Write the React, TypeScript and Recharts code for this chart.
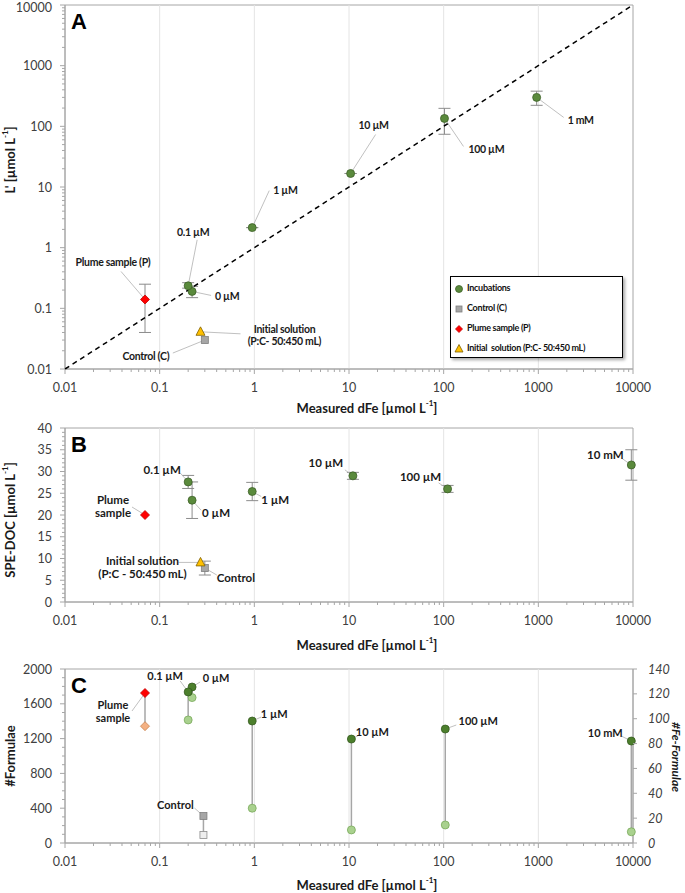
import React from "react";
import {
  ScatterChart,
  Scatter,
  XAxis,
  YAxis,
  ErrorBar,
  ReferenceLine,
  ReferenceArea,
  Legend,
} from "recharts";

// ---------- panel A: L' vs measured dFe ----------
const incNamesA = ["0 µM", "0.1 µM", "1 µM", "10 µM", "100 µM", "1 mM"];
const incFeA = [0.22, 0.2, 0.95, 10.4, 102, 960];
const incLA = [0.19, 0.235, 2.14, 16.7, 135, 300];
const incLErrA = [[0.04, 0.04], [0.02, 0.03], [0, 0], [0, 0], [61, 63], [78, 80]];
const plumeFeA = [0.07];
const plumeLA = [0.14];
const plumeLErrA = [[0.1, 0.11]];
const controlFeA = [0.3];
const controlLA = [0.03];
const initialFeA = [0.27];
const initialLA = [0.041];
const oneToOne = [0.01, 10000];

// ---------- panel B: SPE-DOC ----------
const incNamesB = ["0 µM", "0.1 µM", "1 µM", "10 µM", "100 µM", "10 mM"];
const incFeB = [0.22, 0.2, 0.95, 11, 110, 9600];
const incDocB = [23.4, 27.6, 25.4, 29, 26, 31.5];
const incDocErrB = [4.2, 1.5, 2.1, 0.8, 0.8, 3.5];
const plumeFeB = [0.07];
const plumeDocB = [20];
const controlFeB = [0.3];
const controlDocB = [7.8];
const controlDocErrB = [1.6];
const initialFeB = [0.27];
const initialDocB = [9.1];

// ---------- panel C: #Formulae / #Fe-Formulae ----------
const incNamesC = ["0 µM", "0.1 µM", "1 µM", "10 µM", "100 µM", "10 mM"];
const incFeC = [0.22, 0.2, 0.95, 10.6, 104, 9600];
const incFormulaeC = [1793, 1736, 1402, 1195, 1310, 1172];
const incFeFormulaeC = [117, 99, 28, 10.5, 14.5, 9];
const plumeFeC = [0.07];
const plumeFormulaeC = [1724];
const plumeFeFormulaeC = [94];
const controlFeC = [0.29];
const controlFormulaeC = [310];
const controlFeFormulaeC = [6.5];

// ---------- ticks ----------
const logMajors = [0.01, 0.1, 1, 10, 100, 1000, 10000];
const docMajors = [0, 5, 10, 15, 20, 25, 30, 35, 40];
const formulaeMajors = [0, 400, 800, 1200, 1600, 2000];
const feFormulaeMajors = [0, 20, 40, 60, 80, 100, 120, 140];

const logAll = logMajors.flatMap((d, i) =>
  i === logMajors.length - 1 ? [d] : [1, 2, 3, 4, 5, 6, 7, 8, 9].map((m) => (m === 1 ? d : Number((d * m).toPrecision(6))))
);
const linAll = (max: number, step: number) => Array.from({ length: max / step + 1 }, (_, i) => i * step);

const FONT = "Lato, 'Open Sans', sans-serif";
const AXIS = "#a6a6a6";
const GRID = "#e4e4e4";
const LEADER = "#b0b0b0";
const TS = 5;
const TM = 10;

const INC = { fill: "#5a8a3c", stroke: "#3d6128" };
const INC_DARK = { fill: "#4c7f2c", stroke: "#355a1f" };
const INC_LIGHT = { fill: "#a9d18e", stroke: "#7aa95c" };
const PLUME = { fill: "#ff0000", stroke: "#c00000" };
const PLUME_LIGHT = { fill: "#f4b183", stroke: "#c9834f" };
const CONTROL = { fill: "#a6a6a6", stroke: "#7f7f7f" };
const CONTROL_LIGHT = { fill: "#eeeeee", stroke: "#8c8c8c" };
const INITIAL = { fill: "#ffc000", stroke: "#7f6000" };

type Kind = "circle" | "square" | "diamond" | "triangle";
type Note = { lines: string[]; dx: number; dy: number; anchor?: "start" | "middle" | "end"; lx: number; ly: number };

const pts = (names: string[], xs: number[], ys: number[], errs?: any[]) =>
  xs.map((x, i) => ({ name: names[i], x, y: ys[i], err: errs ? errs[i] : 0 }));

function marker(kind: Kind, cx: number, cy: number, c: { fill: string; stroke: string }, s = 4) {
  const common = { fill: c.fill, stroke: c.stroke, strokeWidth: 0.8 };
  if (kind === "circle") return <circle cx={cx} cy={cy} r={s} {...common} />;
  if (kind === "square") return <rect x={cx - s + 0.5} y={cy - s + 0.5} width={2 * s - 1} height={2 * s - 1} {...common} />;
  if (kind === "diamond")
    return <polygon points={`${cx},${cy - s - 0.5} ${cx + s + 0.5},${cy} ${cx},${cy + s + 0.5} ${cx - s - 0.5},${cy}`} {...common} />;
  return <polygon points={`${cx},${cy - s - 1} ${cx + s + 0.5},${cy + s - 0.5} ${cx - s - 0.5},${cy + s - 0.5}`} {...common} />;
}

const makeShape =
  (kind: Kind, c: { fill: string; stroke: string }, notes: Record<string, Note>, fontSize: number, ls = 0) =>
  (p: any) => {
    const { cx, cy, payload } = p;
    const note = notes[payload?.name];
    return (
      <g>
        {note && <line x1={cx} y1={cy} x2={cx + note.lx} y2={cy + note.ly} stroke={LEADER} strokeWidth={0.8} />}
        {marker(kind, cx, cy, c)}
        {note &&
          note.lines.map((t, i) => (
            <text
              key={i}
              x={cx + note.dx}
              y={cy + note.dy + i * (fontSize + 2)}
              textAnchor={note.anchor || "middle"}
              dominantBaseline="central"
              style={{ fontFamily: FONT, fontSize, fontWeight: 700, letterSpacing: ls, fill: "#1a1a1a" }}
            >
              {t}
            </text>
          ))}
      </g>
    );
  };

const nothing = () => <g />;

const makeTick = (majors: number[], orient: "bottom" | "left" | "right", italic = false) => {
  const set = new Set(majors);
  return (p: any) => {
    const v = p.payload.value;
    const major = set.has(v);
    const len = major ? 5 : 3;
    const style: React.CSSProperties = {
      fontFamily: FONT,
      fontSize: 12.5,
      fill: "#404040",
      fontStyle: italic ? "italic" : "normal",
    };
    if (orient === "bottom") {
      const ay = p.y - TS - TM;
      return (
        <g>
          <line x1={p.x} x2={p.x} y1={ay} y2={ay + len} stroke={AXIS} />
          {major && (
            <text x={p.x} y={ay + 18} textAnchor="middle" dominantBaseline="central" style={style}>
              {v}
            </text>
          )}
        </g>
      );
    }
    if (orient === "left") {
      const ax = p.x + TS + TM;
      return (
        <g>
          <line x1={ax} x2={ax - len} y1={p.y} y2={p.y} stroke={AXIS} />
          {major && (
            <text x={ax - 13} y={Math.max(p.y, 7.5)} textAnchor="end" dominantBaseline="central" style={style}>
              {v}
            </text>
          )}
        </g>
      );
    }
    const ax = p.x - TS - TM;
    return (
      <g>
        <line x1={ax} x2={ax + 4} y1={p.y} y2={p.y} stroke={AXIS} />
        <text x={ax + 15} y={p.y} textAnchor="start" dominantBaseline="central" style={style}>
          {v}
        </text>
      </g>
    );
  };
};

const titleStyle: React.CSSProperties = { fontFamily: FONT, fontSize: 13, fontWeight: 700, fill: "#1a1a1a" };
const sup = (t: string) => (
  <tspan baselineShift="super" fontSize={8}>
    {t}
  </tspan>
);

const xTitle = (dy: number) => (p: any) => {
  const vb = p.viewBox;
  return (
    <text x={vb.x + vb.width / 2 + 18} y={vb.y + dy} textAnchor="middle" dominantBaseline="central" style={titleStyle}>
      Measured dFe [µmol L{sup("-1")}]
    </text>
  );
};

const yTitle = (content: React.ReactNode, dy: number) => (p: any) => {
  const vb = p.viewBox;
  const x = 10;
  const y = vb.y + vb.height / 2 + dy;
  return (
    <text x={x} y={y} transform={`rotate(-90, ${x}, ${y})`} textAnchor="middle" dominantBaseline="central" style={titleStyle}>
      {content}
    </text>
  );
};

const letter = (l: string) => (p: any) => {
  const vb = p.viewBox;
  return (
    <text x={vb.x + 6} y={vb.y + 24} style={{ fontFamily: "'Liberation Sans', Arial, sans-serif", fontSize: 22, fontWeight: 700, fill: "#000" }}>
      {l}
    </text>
  );
};

const notesA: Record<string, Note> = {
  "0 µM": { lines: ["0 µM"], dx: 23, dy: 5, anchor: "start", lx: 19, ly: 4 },
  "0.1 µM": { lines: ["0.1 µM"], dx: 5, dy: -54, lx: 9, ly: -46 },
  "1 µM": { lines: ["1 µM"], dx: 21, dy: -38, anchor: "start", lx: 17, ly: -37 },
  "10 µM": { lines: ["10 µM"], dx: 23, dy: -48, lx: 25, ly: -39 },
  "100 µM": { lines: ["100 µM"], dx: 24, dy: 31, anchor: "start", lx: 19, ly: 28 },
  "1 mM": { lines: ["1 mM"], dx: 31, dy: 23, anchor: "start", lx: 27, ly: 20 },
  plume: { lines: ["Plume sample (P)"], dx: -32, dy: -37, lx: -24, ly: -28 },
  control: { lines: ["Control (C)"], dx: -59, dy: 16, lx: -32, ly: 13 },
  initial: { lines: ["Initial solution", "(P:C- 50:450 mL)"], dx: 84, dy: -3, lx: 40, ly: 2 },
};

const notesB: Record<string, Note> = {
  "0 µM": { lines: ["0 µM"], dx: 24, dy: 12, lx: 9, ly: 10 },
  "0.1 µM": { lines: ["0.1 µM"], dx: -26, dy: -12, lx: -8, ly: -9 },
  "1 µM": { lines: ["1 µM"], dx: 23, dy: 8, lx: 9, ly: 5 },
  "10 µM": { lines: ["10 µM"], dx: -27, dy: -13, lx: -8, ly: -6 },
  "100 µM": { lines: ["100 µM"], dx: -27, dy: -12, lx: -9, ly: -6 },
  "10 mM": { lines: ["10 mM"], dx: -26, dy: -10, lx: -10, ly: -7 },
  plume: { lines: ["Plume", "sample"], dx: -32, dy: -16, lx: -13, ly: -8 },
  control: { lines: ["Control"], dx: 31, dy: 9, lx: 12, ly: 7 },
  initial: { lines: ["Initial solution", "(P:C - 50:450 mL)"], dx: -58, dy: -2, lx: -22, ly: 0 },
};

const notesC: Record<string, Note> = {
  "0 µM": { lines: ["0 µM"], dx: 24, dy: -10, lx: 8, ly: -5 },
  "0.1 µM": { lines: ["0.1 µM"], dx: -23, dy: -16, lx: -8, ly: -11 },
  "1 µM": { lines: ["1 µM"], dx: 22, dy: -8, lx: 9, ly: -4 },
  "10 µM": { lines: ["10 µM"], dx: 21, dy: -8, lx: 8, ly: -4 },
  "100 µM": { lines: ["100 µM"], dx: 33, dy: -9, lx: 11, ly: -4 },
  "10 mM": { lines: ["10 mM"], dx: -26, dy: -9, lx: -10, ly: -5 },
  plume: { lines: ["Plume", "sample"], dx: -32, dy: 11, lx: -13, ly: 18 },
  control: { lines: ["Control"], dx: -28, dy: -12, lx: -9, ly: -8 },
};

const legendItems: { kind: Kind; c: { fill: string; stroke: string }; label: string }[] = [
  { kind: "circle", c: INC, label: "Incubations" },
  { kind: "square", c: CONTROL, label: "Control (C)" },
  { kind: "diamond", c: PLUME, label: "Plume sample (P)" },
  { kind: "triangle", c: INITIAL, label: "Initial  solution (P:C- 50:450 mL)" },
];

const LegendBox = () => (
  <div
    style={{
      width: 173,
      height: 82,
      boxSizing: "border-box",
      border: "1px solid #000",
      background: "#fff",
      boxShadow: "2px 2px 3px rgba(0,0,0,0.35)",
      paddingTop: 0,
    }}
  >
    {legendItems.map((it) => (
      <div key={it.label} style={{ height: 20.2, display: "flex", alignItems: "center" }}>
        <svg width={16} height={12} style={{ marginTop: 3 }}>
          {marker(it.kind, 8, 6, it.c, it.kind === "diamond" ? 3 : 3.5)}
        </svg>
        <span style={{ fontFamily: FONT, fontSize: 9, fontWeight: 700, letterSpacing: -0.3, color: "#111", whiteSpace: "pre" }}>
          {it.label}
        </span>
      </div>
    ))}
  </div>
);

const xAxisProps = {
  dataKey: "x",
  type: "number" as const,
  scale: "log" as const,
  domain: [0.01, 10000],
  ticks: logAll,
  interval: 0,
  tickSize: TS,
  tickMargin: TM,
  tickLine: false,
  axisLine: { stroke: AXIS },
};

const PanelA = () => (
  <ScatterChart width={685} height={420} margin={{ top: 5, right: 52, bottom: 0, left: 20 }}>
    <XAxis {...xAxisProps} height={51} tick={makeTick(logMajors, "bottom")} label={xTitle(39)} />
    <YAxis
      dataKey="y"
      type="number"
      scale="log"
      domain={[0.01, 10000]}
      ticks={logAll}
      interval={0}
      width={45}
      tickSize={TS}
      tickMargin={TM}
      tickLine={false}
      axisLine={{ stroke: AXIS }}
      tick={makeTick(logMajors, "left")}
      label={yTitle(<>L&apos; [µmol L{sup("-1")}]</>, -27)}
    />
    {logMajors.slice(1, -1).map((v) => (
      <ReferenceLine key={v} x={v} stroke={GRID} />
    ))}
    <ReferenceArea x1={0.01} x2={10000} y1={0.01} y2={10000} fill="none" stroke={AXIS} label={letter("A")} />
    <Scatter
      data={oneToOne.map((v) => ({ x: v, y: v }))}
      line={{ stroke: "#000", strokeWidth: 1.5, strokeDasharray: "5 4" }}
      shape={nothing}
      legendType="none"
      isAnimationActive={false}
    />
    <Scatter data={pts(["plume"], plumeFeA, plumeLA, plumeLErrA)} shape={makeShape("diamond", PLUME, notesA, 10.5, -0.3)} isAnimationActive={false}>
      <ErrorBar dataKey="err" direction="y" width={6} stroke="#8c8c8c" strokeWidth={1} />
    </Scatter>
    <Scatter data={pts(["initial"], initialFeA, initialLA)} shape={makeShape("triangle", INITIAL, notesA, 10.5, -0.3)} isAnimationActive={false} />
    <Scatter data={pts(["control"], controlFeA, controlLA)} shape={makeShape("square", CONTROL, notesA, 10.5, -0.3)} isAnimationActive={false} />
    <Scatter data={pts(incNamesA, incFeA, incLA, incLErrA)} shape={makeShape("circle", INC, notesA, 10.5, -0.3)} isAnimationActive={false}>
      <ErrorBar dataKey="err" direction="y" width={6} stroke="#8c8c8c" strokeWidth={1} />
    </Scatter>
    <Legend
      layout="vertical"
      align="center"
      verticalAlign="middle"
      wrapperStyle={{ left: 450, top: 276, width: 173, height: 82 }}
      content={() => <LegendBox />}
    />
  </ScatterChart>
);

const PanelB = () => (
  <ScatterChart width={685} height={240} margin={{ top: 8, right: 52, bottom: 0, left: 20 }}>
    <XAxis {...xAxisProps} height={58} tick={makeTick(logMajors, "bottom")} label={xTitle(43)} />
    <YAxis
      dataKey="y"
      type="number"
      domain={[0, 40]}
      ticks={linAll(40, 1)}
      interval={0}
      width={45}
      tickSize={TS}
      tickMargin={TM}
      tickLine={false}
      axisLine={{ stroke: AXIS }}
      tick={makeTick(docMajors, "left")}
      label={yTitle(<>SPE-DOC [µmol L{sup("-1")}]</>, 5)}
    />
    {logMajors.slice(1, -1).map((v) => (
      <ReferenceLine key={v} x={v} stroke={GRID} />
    ))}
    <ReferenceArea x1={0.01} x2={10000} y1={0} y2={40} fill="none" stroke={AXIS} label={letter("B")} />
    <Scatter data={pts(["plume"], plumeFeB, plumeDocB)} shape={makeShape("diamond", PLUME, notesB, 11.5)} isAnimationActive={false} />
    <Scatter data={pts(["control"], controlFeB, controlDocB, controlDocErrB)} shape={makeShape("square", CONTROL, notesB, 11.5)} isAnimationActive={false}>
      <ErrorBar dataKey="err" direction="y" width={6} stroke="#8c8c8c" strokeWidth={1} />
    </Scatter>
    <Scatter data={pts(["initial"], initialFeB, initialDocB)} shape={makeShape("triangle", INITIAL, notesB, 11.5)} isAnimationActive={false} />
    <Scatter data={pts(incNamesB, incFeB, incDocB, incDocErrB)} shape={makeShape("circle", INC, notesB, 11.5)} isAnimationActive={false}>
      <ErrorBar dataKey="err" direction="y" width={6} stroke="#8c8c8c" strokeWidth={1} />
    </Scatter>
  </ScatterChart>
);

const LEFT_MAX = 2000;
const RIGHT_MAX = 140;
const connectorsC = [
  ...incFeC.map((x, i) => [incFormulaeC[i], incFeFormulaeC[i], x]),
  [plumeFormulaeC[0], plumeFeFormulaeC[0], plumeFeC[0]],
  [controlFormulaeC[0], controlFeFormulaeC[0], controlFeC[0]],
].map(([a, b, x]) => [
  { x, y: a },
  { x, y: (b * LEFT_MAX) / RIGHT_MAX },
]);

const PanelC = () => (
  <ScatterChart width={685} height={233} margin={{ top: 9, right: 0, bottom: 0, left: 20 }}>
    <XAxis {...xAxisProps} height={50} tick={makeTick(logMajors, "bottom")} label={xTitle(42)} />
    <YAxis
      yAxisId="left"
      dataKey="y"
      type="number"
      domain={[0, LEFT_MAX]}
      ticks={linAll(LEFT_MAX, 100)}
      interval={0}
      width={45}
      tickSize={TS}
      tickMargin={TM}
      tickLine={false}
      axisLine={{ stroke: AXIS }}
      tick={makeTick(formulaeMajors, "left")}
      label={yTitle(<>#Formulae</>, 0)}
    />
    <YAxis
      yAxisId="right"
      orientation="right"
      dataKey="y"
      type="number"
      domain={[0, RIGHT_MAX]}
      ticks={feFormulaeMajors}
      interval={0}
      width={52}
      tickSize={TS}
      tickMargin={TM}
      tickLine={false}
      axisLine={{ stroke: AXIS }}
      tick={makeTick(feFormulaeMajors, "right", true)}
      label={(p: any) => {
        const vb = p.viewBox;
        const x = 676;
        const y = vb.y + vb.height / 2 + 1;
        return (
          <text
            x={x}
            y={y}
            transform={`rotate(90, ${x}, ${y})`}
            textAnchor="middle"
            dominantBaseline="central"
            style={{ ...titleStyle, fontSize: 12, fontStyle: "italic" }}
          >
            #Fe-Formulae
          </text>
        );
      }}
    />
    {logMajors.slice(1, -1).map((v) => (
      <ReferenceLine key={v} yAxisId="left" x={v} stroke={GRID} />
    ))}
    <ReferenceArea yAxisId="left" x1={0.01} x2={10000} y1={0} y2={LEFT_MAX} fill="none" stroke={AXIS} label={letter("C")} />
    {connectorsC.map((d, i) => (
      <Scatter
        key={i}
        yAxisId="left"
        data={d}
        line={{ stroke: "#a6a6a6", strokeWidth: 1.5 }}
        shape={nothing}
        legendType="none"
        isAnimationActive={false}
      />
    ))}
    <Scatter yAxisId="right" data={pts(incNamesC, incFeC, incFeFormulaeC)} shape={makeShape("circle", INC_LIGHT, {}, 11)} isAnimationActive={false} />
    <Scatter yAxisId="right" data={pts(["plume"], plumeFeC, plumeFeFormulaeC)} shape={makeShape("diamond", PLUME_LIGHT, {}, 11)} isAnimationActive={false} />
    <Scatter yAxisId="right" data={pts(["control"], controlFeC, controlFeFormulaeC)} shape={makeShape("square", CONTROL_LIGHT, {}, 11)} isAnimationActive={false} />
    <Scatter yAxisId="left" data={pts(["plume"], plumeFeC, plumeFormulaeC)} shape={makeShape("diamond", PLUME, notesC, 11)} isAnimationActive={false} />
    <Scatter yAxisId="left" data={pts(["control"], controlFeC, controlFormulaeC)} shape={makeShape("square", CONTROL, notesC, 11)} isAnimationActive={false} />
    <Scatter yAxisId="left" data={pts(incNamesC, incFeC, incFormulaeC)} shape={makeShape("circle", INC_DARK, notesC, 11)} isAnimationActive={false} />
  </ScatterChart>
);

export default function App() {
  return (
    <div style={{ position: "absolute", left: 0, top: 0, width: 685, height: 893, background: "#fff" }}>
      <div style={{ position: "absolute", left: 0, top: 0 }}>
        <PanelA />
      </div>
      <div style={{ position: "absolute", left: 0, top: 420 }}>
        <PanelB />
      </div>
      <div style={{ position: "absolute", left: 0, top: 660 }}>
        <PanelC />
      </div>
    </div>
  );
}
